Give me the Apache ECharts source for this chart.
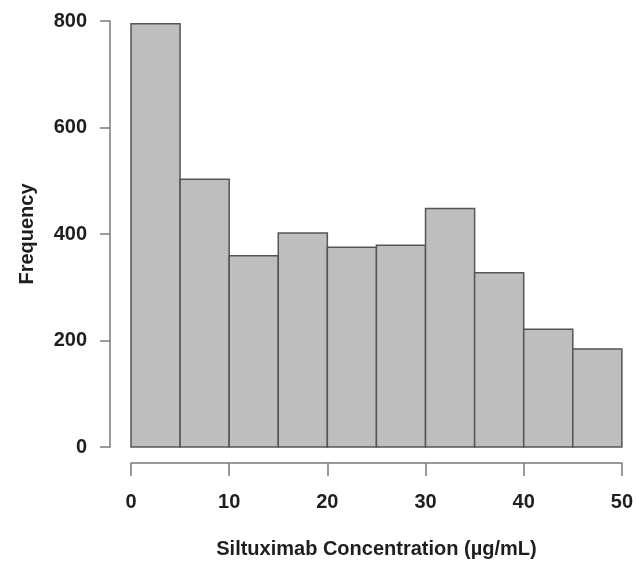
<!DOCTYPE html>
<html>
<head>
<meta charset="utf-8">
<script src="https://cdn.jsdelivr.net/npm/echarts@6/dist/echarts.min.js"></script>
<style>
  html, body { margin: 0; padding: 0; background: #fff; }
  #chart { width: 636px; height: 565px; }
</style>
</head>
<body>
<div id="chart"></div>
<script>
// histogram bins (µg/mL) and counts
const binStarts = [0, 5, 10, 15, 20, 25, 30, 35, 40, 45];
const binEnds = [5, 10, 15, 20, 25, 30, 35, 40, 45, 50];
const counts = [795, 503, 359, 402, 375, 379, 448, 327, 221, 184];

const xTicks = [0, 10, 20, 30, 40, 50];
const yTicks = [0, 200, 400, 600, 800];

const font = "Liberation Sans, Arial, sans-serif";
const axisGray = "#7a7a7a";
const textColor = "#1e1e1e";

document.addEventListener("DOMContentLoaded", function () {
  const chart = echarts.init(document.getElementById("chart"), null, {
    renderer: "canvas",
  });

  const data = binStarts.map((s, i) => [s, binEnds[i], counts[i]]);

  chart.setOption({
    animation: false,
    grid: { left: 131, right: 12, top: 21, bottom: 118 },
    xAxis: {
      type: "value",
      min: xTicks[0],
      max: xTicks[xTicks.length - 1],
      interval: 10,
      offset: 16,
      name: "Siltuximab Concentration (\u00b5g/mL)",
      nameLocation: "middle",
      nameGap: 76,
      nameTextStyle: { fontFamily: font, fontWeight: "bold", fontSize: 20, color: textColor },
      splitLine: { show: false },
      axisLine: { onZero: false, lineStyle: { color: axisGray, width: 1.5 } },
      axisTick: { length: 13, lineStyle: { color: axisGray, width: 1.5 } },
      axisLabel: { margin: 29, fontFamily: font, fontWeight: "bold", fontSize: 20, color: textColor },
    },
    yAxis: {
      type: "value",
      min: yTicks[0],
      max: yTicks[yTicks.length - 1],
      interval: 200,
      offset: 21,
      name: "Frequency",
      nameLocation: "middle",
      nameGap: 73,
      nameTextStyle: { fontFamily: font, fontWeight: "bold", fontSize: 20, color: textColor },
      splitLine: { show: false },
      axisLine: { show: true, onZero: false, lineStyle: { color: axisGray, width: 1.5 } },
      axisTick: { show: true, length: 10, lineStyle: { color: axisGray, width: 1.5 } },
      axisLabel: { margin: 23, fontFamily: font, fontWeight: "bold", fontSize: 20, color: textColor },
    },
    series: [
      {
        type: "custom",
        data: data,
        encode: { x: [0, 1], y: 2 },
        renderItem: function (params, api) {
          const topLeft = api.coord([api.value(0), api.value(2)]);
          const bottomRight = api.coord([api.value(1), 0]);
          return {
            type: "rect",
            shape: {
              x: topLeft[0],
              y: topLeft[1],
              width: bottomRight[0] - topLeft[0],
              height: bottomRight[1] - topLeft[1],
            },
            style: { fill: "#bebebe", stroke: "#555", lineWidth: 1.5 },
          };
        },
      },
    ],
  });
});
</script>
</body>
</html>
